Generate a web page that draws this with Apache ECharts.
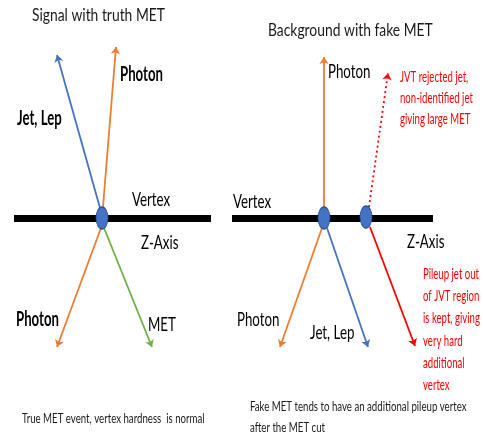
<!DOCTYPE html>
<html><head><meta charset="utf-8">
<script src="https://cdn.jsdelivr.net/npm/echarts@6/dist/echarts.min.js"></script>
<style>html,body{margin:0;padding:0;background:#fff}#c{width:483px;height:440px}</style>
</head><body><div id="c"></div>
<script>
// Diagram coordinates in a 483 x 440 value space (y downward)
const zAxisLines = [[[14,218],[211,218]], [[232,218],[433,218]]];
const vertexPoints = [[102,218],[324,218],[366,217]];
const arrowStarts = [[100,208],[103,207],[101,228],[104,228],[324,207],[322,228],[327,228],[370,227]];
const arrowEnds   = [[57,55],[116,47],[57,347],[152,347],[324,57],[280,347],[368,347],[415,346]];
const arrowKinds  = ['blue','orange','orange','green','orange','orange','blue','red'];
const dottedStart = [369,207];
const dottedEnd = [388,73];

const texts = ['Signal with truth MET','Photon','Jet, Lep','Vertex','Z-Axis','Photon','MET',
  'True MET event, vertex hardness  is normal',
  'Background with fake MET','Photon','Vertex','Z-Axis','Photon','Jet, Lep',
  'Fake MET tends to have an additional pileup vertex','after the MET cut'];
const textPos = [[32,15],[120,75],[17,119],[132,200],[141,243],[16,320],[148,325],[22,418],
  [268,30],[328,72],[233,202],[407,242],[237,320],[310,333],[250,406],[250,427]];
const textKind = ['title','bold','bold','norm','norm','bold','norm','small',
  'title','norm','norm','norm','norm','norm','small','small'];
const redTexts = ['JVT rejected jet,','non-identified jet','giving large MET',
  'Pileup jet out','of JVT region','is kept, giving','very hard','additional','vertex'];
const redPos = [[400,77],[400,98],[400,119],[423,274],[423,296],[423,318],[423,341],[423,363],[423,385]];

const FONT = "Lato, 'Open Sans', sans-serif";
const colors = {blue:'#4472C4', orange:'#ED7D31', green:'#70AD47', red:'#FF0000'};
const styles = {
  title:{fontSize:18, fontWeight:'normal', color:'#1a1a1a', sx:0.77},
  bold:{fontSize:20, fontWeight:'bold', color:'#000', sx:0.66},
  norm:{fontSize:19, fontWeight:'normal', color:'#000', sx:0.70},
  small:{fontSize:14, fontWeight:'normal', color:'#1a1a1a', sx:0.69},
  red:{fontSize:16, fontWeight:'normal', color:'#FF0000', sx:0.60}
};

const chart = echarts.init(document.getElementById('c'), null, {renderer:'canvas'});
const series = [];
series.push({type:'lines', coordinateSystem:'cartesian2d', polyline:false, silent:true,
  lineStyle:{color:'#000', width:7, opacity:1}, symbol:'none',
  data: zAxisLines.map(c=>({coords:c}))});
arrowStarts.forEach((s,i)=>{
  series.push({type:'lines', coordinateSystem:'cartesian2d', silent:true,
    symbol:['none','arrow'], symbolSize:7,
    lineStyle:{color:colors[arrowKinds[i]], width:1.8, opacity:1},
    data:[{coords:[s, arrowEnds[i]]}]});
});
series.push({type:'lines', coordinateSystem:'cartesian2d', silent:true,
  symbol:['none','arrow'], symbolSize:7,
  lineStyle:{color:colors.red, width:1.8, type:[2,3], opacity:1},
  data:[{coords:[dottedStart, dottedEnd]}]});
series.push({type:'scatter', silent:true, symbol:'circle', symbolSize:[12,22],
  itemStyle:{color:'#4472C4', borderColor:'#2F528F', borderWidth:1, opacity:1},
  data: vertexPoints, z:5});

chart.setOption({
  animation:false,
  grid:{left:0,right:0,top:0,bottom:0},
  xAxis:{type:'value', min:0, max:483, show:false},
  yAxis:{type:'value', min:0, max:440, inverse:true, show:false},
  series
});

function makeText(t, pos, st){
  const p = chart.convertToPixel({gridIndex:0}, pos);
  return {type:'text', x:p[0], y:p[1], scaleX:st.sx, scaleY:1, silent:true, z:10,
    style:{text:t, fontFamily:FONT, fontSize:st.fontSize, fontWeight:st.fontWeight,
      fill:st.color, align:'left', verticalAlign:'middle', textAlign:'left', textVerticalAlign:'middle'}};
}
const graphics = [];
texts.forEach((t,i)=>graphics.push(makeText(t, textPos[i], styles[textKind[i]])));
redTexts.forEach((t,i)=>graphics.push(makeText(t, redPos[i], styles.red)));
chart.setOption({graphic: graphics});
</script></body></html>
